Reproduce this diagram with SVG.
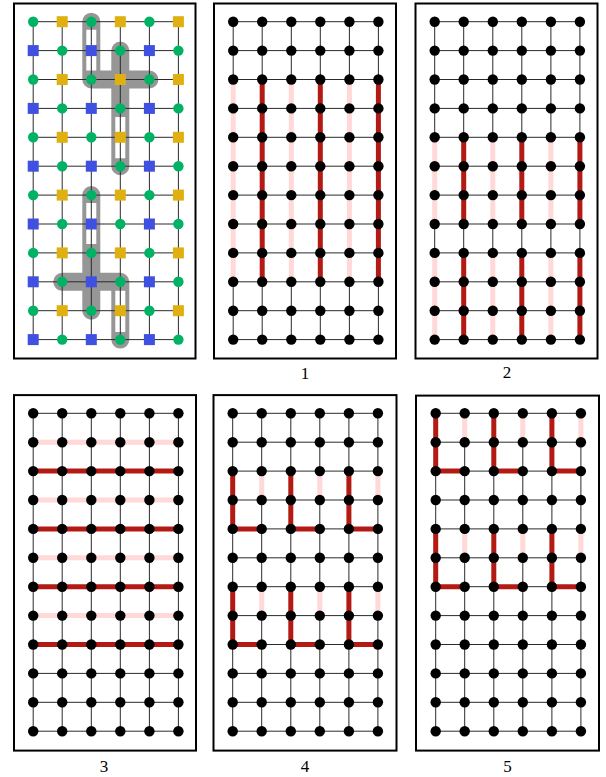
<svg xmlns="http://www.w3.org/2000/svg" xmlns:xlink="http://www.w3.org/1999/xlink" width="606" height="777" viewBox="0 0 606 777">
<style>
.frame{fill:#fff;stroke:#000;stroke-width:2}
.grid{fill:none;stroke:#2a2a2a;stroke-width:1}
.red{fill:none;stroke:#b31a14;stroke-width:5;stroke-linejoin:miter}
.pink{fill:none;stroke:#ffd8d8;stroke-width:5}
.gray{fill:none;stroke:#969696;stroke-width:18;stroke-linecap:round;stroke-linejoin:round}
.hole{fill:none;stroke:#fff;stroke-width:10}
.bn{fill:#000}
.gn{fill:#00b263}
.bs{fill:#4050e0}
.ys{fill:#e0b010}
.lbl{font-family:"Liberation Serif","Times New Roman",serif;font-size:17px;fill:#000;text-anchor:middle}
</style>
<defs>
<path id="gridlines" class="grid" d="M33.2 21.7H178.4M33.2 50.6H178.4M33.2 79.5H178.4M33.2 108.4H178.4M33.2 137.3H178.4M33.2 166.2H178.4M33.2 195.1H178.4M33.2 224H178.4M33.2 252.9H178.4M33.2 281.8H178.4M33.2 310.7H178.4M33.2 339.6H178.4M33.2 21.7V339.6M62.2 21.7V339.6M91.3 21.7V339.6M120.3 21.7V339.6M149.4 21.7V339.6M178.4 21.7V339.6"/>
<g id="brow" class="bn">
<circle cx="33.2" cy="0" r="5.2"/><circle cx="62.2" cy="0" r="5.2"/><circle cx="91.3" cy="0" r="5.2"/><circle cx="120.3" cy="0" r="5.2"/><circle cx="149.4" cy="0" r="5.2"/><circle cx="178.4" cy="0" r="5.2"/>
</g>
<g id="bnodes">
<use xlink:href="#brow" y="21.7"/><use xlink:href="#brow" y="50.6"/><use xlink:href="#brow" y="79.5"/><use xlink:href="#brow" y="108.4"/><use xlink:href="#brow" y="137.3"/><use xlink:href="#brow" y="166.2"/><use xlink:href="#brow" y="195.1"/><use xlink:href="#brow" y="224"/><use xlink:href="#brow" y="252.9"/><use xlink:href="#brow" y="281.8"/><use xlink:href="#brow" y="310.7"/><use xlink:href="#brow" y="339.6"/>
</g>
<g id="rowA">
<circle class="gn" cx="33.2" cy="0" r="5.2"/><rect class="ys" x="56.7" y="-5.5" width="11" height="11"/><circle class="gn" cx="91.3" cy="0" r="5.2"/><rect class="ys" x="114.8" y="-5.5" width="11" height="11"/><circle class="gn" cx="149.4" cy="0" r="5.2"/><rect class="ys" x="172.9" y="-5.5" width="11" height="11"/>
</g>
<g id="rowB">
<rect class="bs" x="27.7" y="-5.5" width="11" height="11"/><circle class="gn" cx="62.2" cy="0" r="5.2"/><rect class="bs" x="85.8" y="-5.5" width="11" height="11"/><circle class="gn" cx="120.3" cy="0" r="5.2"/><rect class="bs" x="143.9" y="-5.5" width="11" height="11"/><circle class="gn" cx="178.4" cy="0" r="5.2"/>
</g>
</defs>

<g id="panel-0">
<rect class="frame" x="14" y="3.5" width="181.5" height="355"/>
<g id="chains">
<path class="gray" d="M91.3 21.7V79.5M91.3 79.5H149.4M120.3 50.6V108.4M120.3 108.4V166.2M91.3 195.1V252.9M91.3 252.9V310.7M62.2 281.8H120.3M120.3 281.8V339.6"/>
<path class="hole" d="M91.3 29.7V70.5M120.3 117V158.2M91.3 203.1V243.9M120.3 290.8V332"/>
</g>
<use xlink:href="#gridlines"/>
<g id="colored-nodes">
<use xlink:href="#rowA" y="21.7"/><use xlink:href="#rowB" y="50.6"/><use xlink:href="#rowA" y="79.5"/><use xlink:href="#rowB" y="108.4"/><use xlink:href="#rowA" y="137.3"/><use xlink:href="#rowB" y="166.2"/><use xlink:href="#rowA" y="195.1"/><use xlink:href="#rowB" y="224"/><use xlink:href="#rowA" y="252.9"/><use xlink:href="#rowB" y="281.8"/><use xlink:href="#rowA" y="310.7"/><use xlink:href="#rowB" y="339.6"/>
</g>
</g>

<g id="panel-1" transform="translate(200,0)">
<rect class="frame" x="14" y="3.5" width="182" height="355"/>
<use xlink:href="#gridlines"/>
<g id="edges-1">
<path class="pink" d="M33.2 79.5V281.8M91.3 79.5V281.8M149.4 79.5V281.8"/>
<path class="red" d="M62.2 79.5V281.8M120.3 79.5V281.8M178.4 79.5V281.8"/>
</g>
<use xlink:href="#bnodes"/>
</g>

<g id="panel-2" transform="translate(401.5,0)">
<rect class="frame" x="14" y="3.5" width="182" height="355"/>
<use xlink:href="#gridlines"/>
<g id="edges-2">
<path class="pink" d="M33.2 137.3V224M91.3 137.3V224M149.4 137.3V224M33.2 252.9V339.6M91.3 252.9V339.6M149.4 252.9V339.6"/>
<path class="red" d="M62.2 137.3V224M120.3 137.3V224M178.4 137.3V224M62.2 252.9V339.6M120.3 252.9V339.6M178.4 252.9V339.6"/>
</g>
<use xlink:href="#bnodes"/>
</g>

<g id="panel-3" transform="translate(0,391.6)">
<rect class="frame" x="14" y="3.5" width="182" height="355.5"/>
<use xlink:href="#gridlines"/>
<g id="edges-3">
<path class="pink" d="M33.2 50.6H178.4M33.2 108.4H178.4M33.2 166.2H178.4M33.2 224H178.4"/>
<path class="red" d="M33.2 79.5H178.4M33.2 137.3H178.4M33.2 195.1H178.4M33.2 252.9H178.4"/>
</g>
<use xlink:href="#bnodes"/>
</g>

<g id="panel-4" transform="translate(199.5,391.6)">
<rect class="frame" x="14" y="3.5" width="183" height="355.5"/>
<use xlink:href="#gridlines"/>
<g id="edges-4">
<path class="pink" d="M62.2 79.5V108.4M120.3 79.5V108.4M178.4 79.5V108.4M62.2 195.1V224M120.3 195.1V224M178.4 195.1V224"/>
<path class="red" d="M33.2 79.5V137.3H62.2M91.3 79.5V137.3H120.3M149.4 79.5V137.3H178.4M33.2 195.1V252.9H62.2M91.3 195.1V252.9H120.3M149.4 195.1V252.9H178.4"/>
</g>
<use xlink:href="#bnodes"/>
</g>

<g id="panel-5" transform="translate(402.5,391.6)">
<rect class="frame" x="13.5" y="4" width="183" height="355"/>
<use xlink:href="#gridlines"/>
<g id="edges-5">
<path class="pink" d="M62.2 21.7V50.6M120.3 21.7V50.6M178.4 21.7V50.6M62.2 137.3V166.2M120.3 137.3V166.2M178.4 137.3V166.2"/>
<path class="red" d="M33.2 21.7V79.5H62.2M91.3 21.7V79.5H120.3M149.4 21.7V79.5H178.4M33.2 137.3V195.1H62.2M91.3 137.3V195.1H120.3M149.4 137.3V195.1H178.4"/>
</g>
<use xlink:href="#bnodes"/>
</g>

<g id="labels">
<text class="lbl" x="305" y="378.5">1</text>
<text class="lbl" x="507" y="378">2</text>
<text class="lbl" x="104" y="771.5">3</text>
<text class="lbl" x="305" y="771.5">4</text>
<text class="lbl" x="507.5" y="771.5">5</text>
</g>
</svg>
